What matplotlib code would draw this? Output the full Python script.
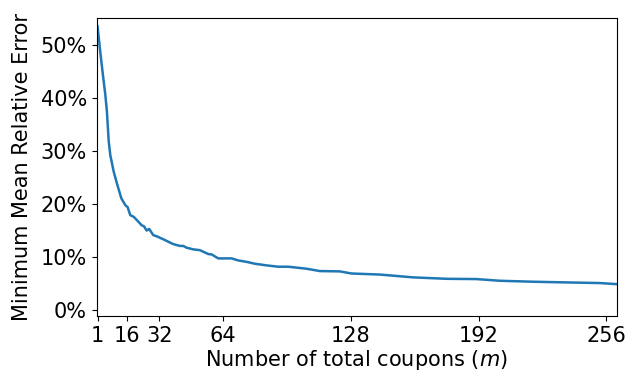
import matplotlib
matplotlib.use("Agg")
import matplotlib.pyplot as plt
from matplotlib.ticker import PercentFormatter

# Minimum mean relative error as a function of the number of coupons m
coupons = [1, 2.35, 3.7, 4.9, 5.7, 6.6, 7.4, 9.1, 10.7, 12.9, 14.9, 16.1,
           17.4, 19.1, 21.4, 23.1, 24.3, 25.6, 26.9, 28.9, 31.4, 34.8, 38.9,
           42.3, 44, 45.7, 49, 52.3, 56.5, 58.2, 61.5, 68.2, 71.5, 75.7, 79.9,
           85.8, 91.6, 96.6, 105.8, 112.5, 122.5, 128.4, 142.6, 159.2, 176,
           191, 202.7, 219.4, 236.1, 252.8, 261.2]
min_mre = [0.535, 0.487, 0.443, 0.406, 0.374, 0.318, 0.292, 0.261, 0.239,
           0.211, 0.198, 0.194, 0.179, 0.176, 0.167, 0.160, 0.158, 0.150,
           0.153, 0.1415, 0.138, 0.132, 0.1245, 0.121, 0.121, 0.1176, 0.1145,
           0.113, 0.1057, 0.105, 0.0975, 0.0975, 0.0937, 0.091, 0.0874,
           0.0843, 0.0818, 0.0818, 0.078, 0.0736, 0.073, 0.069, 0.067, 0.0617,
           0.059, 0.0585, 0.0553, 0.0535, 0.0522, 0.051, 0.049]

xticks = [1, 16, 32, 64, 128, 192, 256]
yticks = [0, 0.1, 0.2, 0.3, 0.4, 0.5]

fig = plt.figure(figsize=(6.27, 3.73), dpi=100)
ax = fig.add_axes([0.154, 0.153, 0.8296, 0.799])
ax.plot(coupons, min_mre, color="tab:blue", linewidth=1.8)

ax.set_xlim(0.5, 261.3)
ax.set_ylim(-0.011, 0.551)
ax.set_xticks(xticks)
ax.set_yticks(yticks)
ax.yaxis.set_major_formatter(PercentFormatter(1.0, decimals=0))
ax.tick_params(labelsize=15)
ax.set_xlabel("Number of total coupons ($m$)", fontsize=15, labelpad=2)
ax.set_ylabel("Minimum Mean Relative Error", fontsize=15, labelpad=6)

fig.savefig("out.png", dpi=100)
